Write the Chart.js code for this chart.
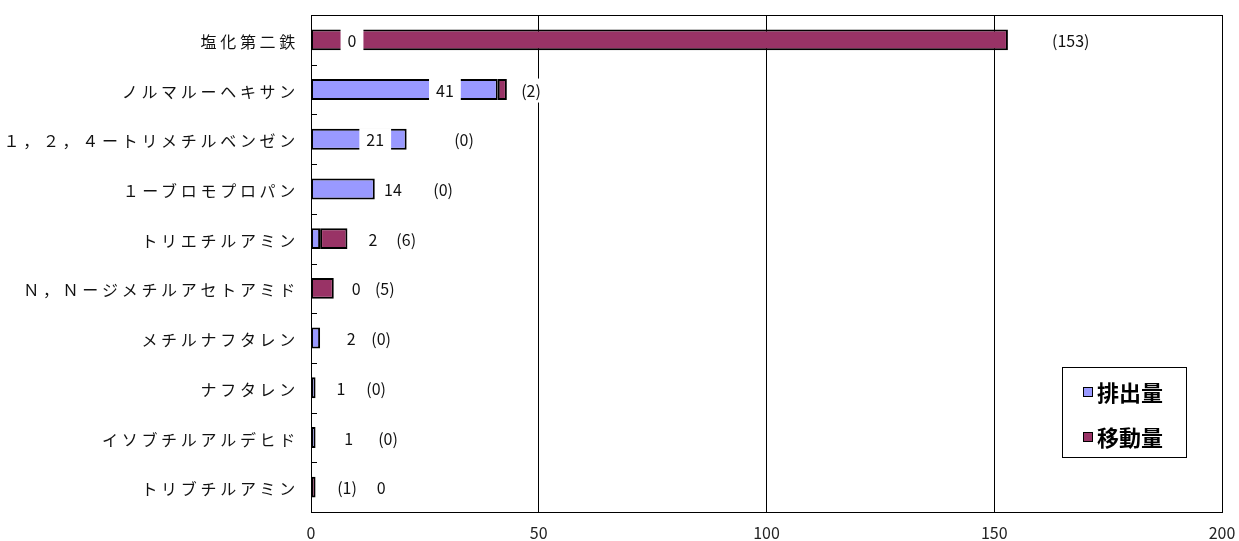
<!DOCTYPE html>
<html>
<head>
<meta charset="utf-8">
<script src="https://cdn.jsdelivr.net/npm/chart.js@4.4.0/dist/chart.umd.min.js"></script>
<style>
  html, body { margin: 0; padding: 0; background: #fff; }
  #wrap { width: 1239px; height: 541px; }
</style>
</head>
<body>
<div id="wrap"><canvas id="myChart" width="1239" height="541"></canvas></div>
<script>
const kategori = [
  "塩化第二鉄",
  "ノルマルーヘキサン",
  "１，２，４ートリメチルベンゼン",
  "１ーブロモプロパン",
  "トリエチルアミン",
  "Ｎ，Ｎージメチルアセトアミド",
  "メチルナフタレン",
  "ナフタレン",
  "イソブチルアルデヒド",
  "トリブチルアミン",
];
const haishutsu = [0, 41, 21, 14, 2, 0, 2, 1, 1, 0];
const idou = [153, 2, 0, 0, 6, 5, 0, 0, 0, 1];
const xTicks = [0, 50, 100, 150, 200];

// where each data label sits along the x axis (axis units)
const posHaishutsu = [9.0, 29.4, 14.1, 18.0, 13.6, 9.9, 8.8, 6.6, 8.3, 15.4];
const posIdou = [166.8, 48.3, 33.6, 29.0, 20.9, 16.2, 15.4, 14.3, 16.9, 7.9];

const FONT = "'Noto Sans CJK JP', 'Noto Sans', sans-serif";

const labelPlugin = {
  id: "labelPlugin",
  afterDatasetsDraw(chart) {
    const c = chart.ctx;
    const xs = chart.scales.x;
    const ys = chart.scales.y;
    c.save();
    c.font = "16px " + FONT;
    c.textAlign = "center";
    c.textBaseline = "middle";
    const draw = (txt, v, i) => {
      const x = xs.getPixelForValue(v);
      const y = ys.getPixelForValue(i) + 1;
      const w = c.measureText(txt).width + 14;
      c.fillStyle = "#fff";
      c.fillRect(x - w / 2, y - 12, w, 24);
      c.fillStyle = "#111";
      c.fillText(txt, x, y);
    };
    kategori.forEach((k, i) => {
      draw(String(haishutsu[i]), posHaishutsu[i], i);
      draw("(" + idou[i] + ")", posIdou[i], i);
    });
    c.restore();
  },
  afterDraw(chart) {
    const c = chart.ctx;
    const a = chart.chartArea;
    const ys = chart.scales.y;
    c.save();
    // category names, spaced out like the sheet
    c.font = "16px " + FONT;
    c.letterSpacing = "3.7px";
    c.textAlign = "right";
    c.textBaseline = "middle";
    c.fillStyle = "#111";
    kategori.forEach((k, i) => {
      c.fillText(k, a.left - 12, ys.getPixelForValue(i) + 2);
    });
    c.letterSpacing = "0px";
    // inner tick marks between categories
    c.strokeStyle = "#000";
    c.lineWidth = 1;
    for (let i = 1; i < kategori.length; i++) {
      const y = Math.round((ys.getPixelForValue(i - 1) + ys.getPixelForValue(i)) / 2) + 0.5;
      c.beginPath();
      c.moveTo(a.left, y);
      c.lineTo(a.left + 6, y);
      c.stroke();
    }
    // plot frame
    c.strokeRect(Math.round(a.left) + 0.5, Math.round(a.top) + 0.5, Math.round(a.right - a.left), Math.round(a.bottom - a.top));

    // legend box
    const lx = 1062, ly = 367, lw = 124, lh = 90;
    c.fillStyle = "#fff";
    c.fillRect(lx, ly, lw, lh);
    c.strokeStyle = "#000";
    c.strokeRect(lx + 0.5, ly + 0.5, lw, lh);
    c.font = "bold 22px " + FONT;
    c.textAlign = "left";
    c.textBaseline = "middle";
    chart.data.datasets.forEach((ds, i) => {
      const cy = ly + 25 + i * 45;
      c.fillStyle = ds.backgroundColor;
      c.fillRect(lx + 21, cy - 5, 10, 10);
      c.strokeStyle = "#000";
      c.strokeRect(lx + 21.5, cy - 4.5, 9, 9);
      c.fillStyle = "#000";
      c.fillText(ds.label, lx + 35, cy + 1);
    });
    c.restore();
  },
};

const data = {
  labels: kategori,
  datasets: [
    {
      label: "排出量",
      data: haishutsu,
      backgroundColor: "#9999FF",
      borderColor: "#000",
      borderWidth: 2,
      borderSkipped: false,
    },
    {
      label: "移動量",
      data: idou,
      backgroundColor: "#993366",
      borderColor: "#000",
      borderWidth: 2,
      borderSkipped: false,
    },
  ],
};

const config = {
  type: "bar",
  data: data,
  plugins: [labelPlugin],
  options: {
    indexAxis: "y",
    responsive: false,
    animation: false,
    layout: { padding: { top: 15, right: 17, bottom: 0, left: 0 } },
    datasets: { bar: { barPercentage: 0.42, categoryPercentage: 1 } },
    plugins: { legend: { display: false }, tooltip: { enabled: false } },
    scales: {
      x: {
        stacked: true,
        min: 0,
        max: 200,
        afterBuildTicks: (s) => { s.ticks = xTicks.map((v) => ({ value: v })); },
        afterFit: (s) => { s.height = 29; s.paddingLeft = 0; s.paddingRight = 0; },
        grid: { color: "#000", drawTicks: false, lineWidth: (ctx) => (ctx.tick && ctx.tick.value > 0 && ctx.tick.value < 200 ? 1 : 0) },
        border: { display: false },
        ticks: { color: "#222", font: { family: FONT, size: 16 }, padding: 11 },
      },
      y: {
        stacked: true,
        afterFit: (s) => { s.width = 311; },
        grid: { display: false },
        border: { display: false },
        ticks: { display: false },
      },
    },
  },
};

const ctx = document.getElementById("myChart");
const myChart = new Chart(ctx, config);
</script>
</body>
</html>
